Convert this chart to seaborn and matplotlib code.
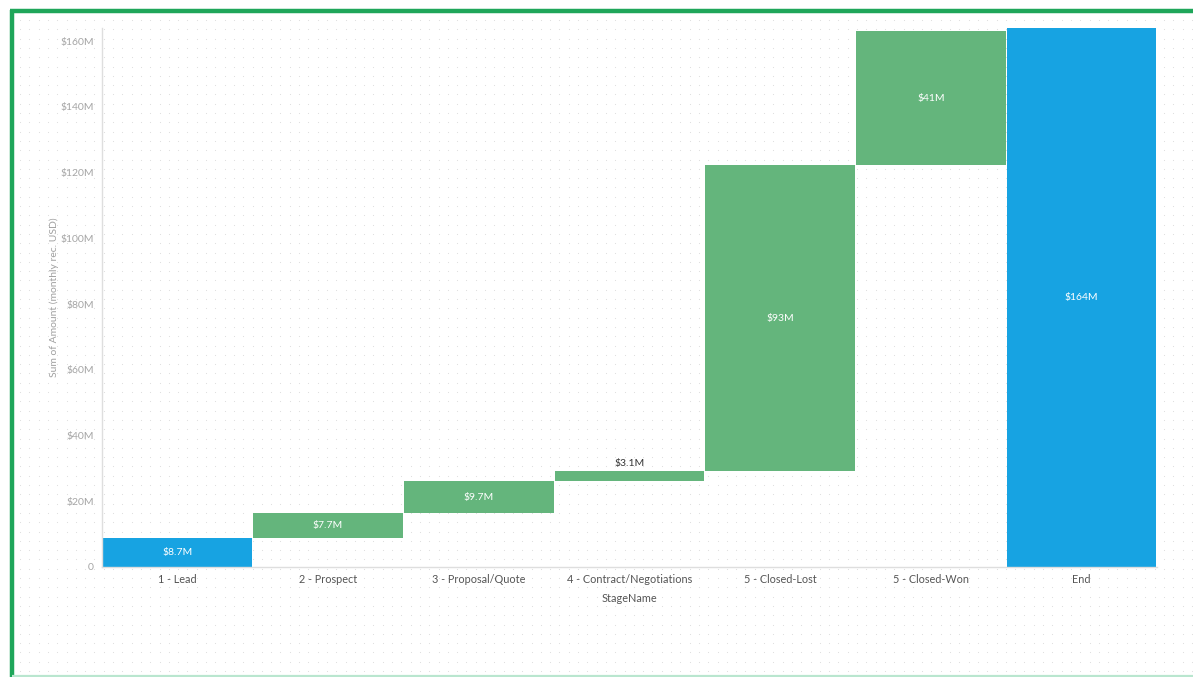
import numpy as np
import pandas as pd
import matplotlib
matplotlib.use("Agg")
import matplotlib.pyplot as plt
import seaborn as sns

# Waterfall of pipeline amount by stage
stages = ["1 - Lead", "2 - Prospect", "3 - Proposal/Quote", "4 - Contract/Negotiations",
          "5 - Closed-Lost", "5 - Closed-Won", "End"]
amounts = [8.7, 7.7, 9.7, 3.1, 93.0, 41.0, 164.0]   # $M
labels = ["$8.7M", "$7.7M", "$9.7M", "$3.1M", "$93M", "$41M", "$164M"]
is_total = [True, False, False, False, False, False, True]
y_ticks = [0, 20, 40, 60, 80, 100, 120, 140, 160]
y_tick_labels = ["0", "$20M", "$40M", "$60M", "$80M", "$100M", "$120M", "$140M", "$160M"]

BLUE = "#17a3e2"
GREEN = "#64b57c"

# running bottoms for the floating bars
bottoms = []
running = 0.0
for a, tot in zip(amounts, is_total):
    if tot and running > 0:
        bottoms.append(0.0)
    else:
        bottoms.append(running)
        running += a
tops = [b + a for b, a in zip(bottoms, amounts)]

df = pd.DataFrame({"stage": stages, "top": tops, "bottom": bottoms, "amount": amounts})

sns.set_theme(style="white")
plt.rcParams["font.family"] = ["Lato", "DejaVu Sans"]

W, H = 1193, 677
fig = plt.figure(figsize=(W / 100, H / 100), dpi=100)
fig.patch.set_facecolor("white")

# dotted canvas and green frame
bg = fig.add_axes([0, 0, 1, 1], zorder=-1)
bg.set_xlim(0, W)
bg.set_ylim(H, 0)
bg.axis("off")
gx, gy = np.meshgrid(np.arange(20, W, 9.3), np.arange(20, H, 9.3))
bg.scatter(gx.ravel(), gy.ravel(), s=0.6, color="#dcdcdc", linewidths=0)
bg.plot([10, W], [11, 11], color="#1fa65a", lw=3.2, solid_capstyle="butt")
bg.plot([12, 12], [10, H], color="#1fa65a", lw=3.2, solid_capstyle="butt")
bg.plot([12, W], [675.5, 675.5], color="#b9e6cf", lw=1.6, solid_capstyle="butt")

ax = fig.add_axes([102 / W, 1 - 567 / H, (1157 - 102) / W, (567 - 28) / H])
ax.patch.set_alpha(0)

palette = {s: (BLUE if t else GREEN) for s, t in zip(stages, is_total)}
sns.barplot(data=df, x="stage", y="top", hue="stage", palette=palette, order=stages,
            hue_order=stages, dodge=False, legend=False, width=0.992, linewidth=0,
            saturation=1, ax=ax)

# turn the bars into floating segments
for patch in ax.patches:
    cx = patch.get_x() + patch.get_width() / 2
    i = int(round(cx))
    patch.set_y(bottoms[i])
    patch.set_height(amounts[i])

for i, (b, a, lab) in enumerate(zip(bottoms, amounts, labels)):
    if a < 5:
        ax.text(i, b + a + 0.8, lab, ha="center", va="bottom", fontsize=7.5, color="#333333")
    else:
        ax.text(i, b + a / 2, lab, ha="center", va="center", fontsize=7.5, color="white")

ax.set_xlim(-0.5, len(stages) - 0.5)
ax.set_ylim(0, 164)
ax.set_yticks(y_ticks)
ax.set_yticklabels(y_tick_labels)
ax.tick_params(axis="y", labelsize=7.5, labelcolor="#a5a5a5", length=3, width=0.8,
               color="#d8d8d8", pad=3)
ax.tick_params(axis="x", labelsize=7.8, labelcolor="#555555", length=3, width=0.8,
               color="#d8d8d8", pad=2)
for side in ["top", "right"]:
    ax.spines[side].set_visible(False)
for side in ["left", "bottom"]:
    ax.spines[side].set_color("#dedede")
    ax.spines[side].set_linewidth(1.0)

ax.set_xlabel("StageName", fontsize=7.8, color="#555555", labelpad=6)
ax.set_ylabel("Sum of Amount (monthly rec. USD)", fontsize=7.5, color="#a0a0a0", labelpad=1)

fig.savefig("out.png", dpi=100, facecolor="white")
